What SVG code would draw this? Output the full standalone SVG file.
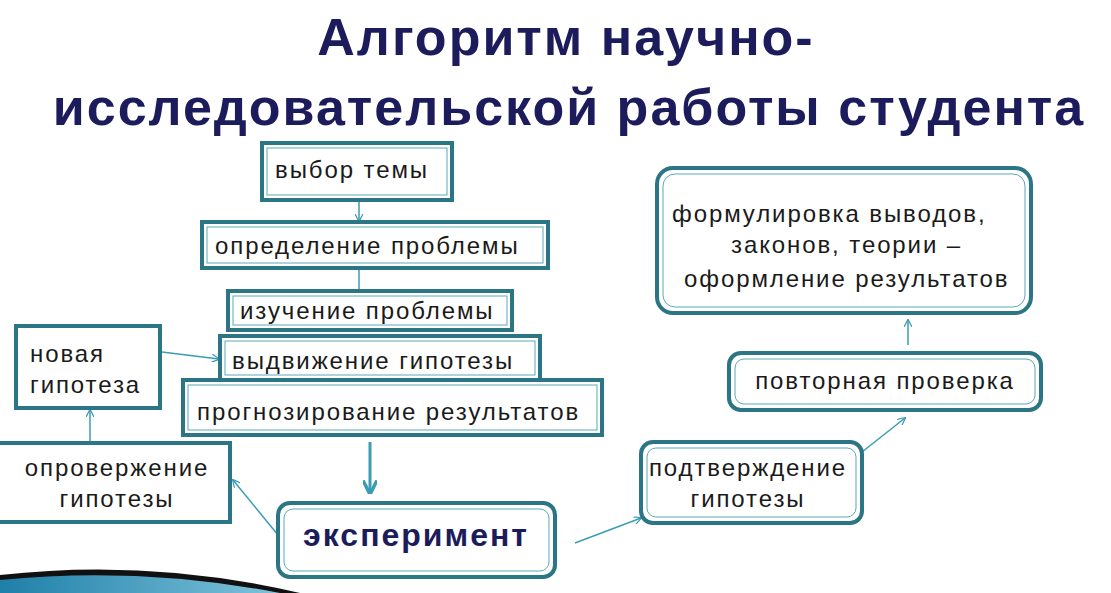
<svg xmlns="http://www.w3.org/2000/svg" width="1111" height="593" viewBox="0 0 1111 593">
<defs>
<style>
.b{fill:#fff;stroke:#2b7585;stroke-width:4}
.i{fill:none;stroke:#5aa9b8;stroke-width:1}
.t{font-family:"Liberation Sans",Arial,sans-serif;font-size:24px;letter-spacing:1.9px;fill:#1a1a1a}
.c{stroke:#3a9cb5;stroke-width:1.5;fill:none}
</style>
<marker id="a" viewBox="0 0 10 10" refX="9" refY="5" markerWidth="8" markerHeight="8" orient="auto" markerUnits="userSpaceOnUse"><path d="M0,0L10,5L0,10" fill="none" stroke="#3a9cb5" stroke-width="1.5"/></marker>
<marker id="a2" viewBox="0 0 10 10" refX="9" refY="5" markerWidth="14" markerHeight="14" orient="auto" markerUnits="userSpaceOnUse"><path d="M0,0L10,5L0,10" fill="none" stroke="#3a9cb5" stroke-width="2.5"/></marker>
<linearGradient id="sw" x1="0" y1="0" x2="1" y2="0"><stop offset="0" stop-color="#1f7fa8"/><stop offset="1" stop-color="#7fc3dc"/></linearGradient>
</defs>
<rect width="1111" height="593" fill="#fff"/>
<path d="M0,575 Q150,558 300,593 L0,593Z" fill="#111"/>
<path d="M0,580 Q140,566 280,593 L0,593Z" fill="url(#sw)"/>
<g font-family="Liberation Sans,Arial,sans-serif" font-weight="bold" font-size="52" letter-spacing="2" fill="#1c1c5c" text-anchor="middle">
<text x="566" y="55">Алгоритм научно-</text>
<text x="569" y="125">исследовательской работы студента</text>
</g>
<g id="connectors">
<path class="c" d="M359,200V221" marker-end="url(#a)"/>
<path class="c" d="M359,268V291"/>
<path class="c" d="M162,352L219,359" marker-end="url(#a)"/>
<path class="c" d="M90,442V410" marker-end="url(#a)"/>
<path d="M370,442V493" stroke="#3a9cb5" stroke-width="3" marker-end="url(#a2)"/>
<path class="c" d="M278,535L233,480" marker-end="url(#a)"/>
<path class="c" d="M575,543L641,518" marker-end="url(#a)"/>
<path class="c" d="M862,452L905,418" marker-end="url(#a)"/>
<path class="c" d="M908,345V320" marker-end="url(#a)"/>
</g>
<g id="n1"><rect class="b" x="262" y="143" width="190" height="57"/><rect class="i" x="267" y="148" width="180" height="47"/><text class="t" x="275" y="178">выбор темы</text></g>
<g id="n2"><rect class="b" x="202" y="222" width="346" height="46"/><rect class="i" x="207" y="227" width="336" height="36"/><text class="t" x="215" y="254">определение проблемы</text></g>
<g id="n3"><rect class="b" x="228" y="291" width="284" height="39"/><rect class="i" x="233" y="296" width="274" height="29"/><text class="t" x="240" y="319">изучение проблемы</text></g>
<g id="n4"><rect class="b" x="220" y="336" width="320" height="44"/><rect class="i" x="225" y="341" width="310" height="34"/><text class="t" x="232" y="369">выдвижение гипотезы</text></g>
<g id="n5"><rect class="b" x="183" y="380" width="419" height="55"/><rect class="i" x="188" y="385" width="409" height="45"/><text class="t" x="197" y="420">прогнозирование результатов</text></g>
<g id="n6"><rect class="b" x="16" y="326" width="144" height="82"/><text class="t" x="30" y="362">новая</text><text class="t" x="30" y="393">гипотеза</text></g>
<g id="n7"><rect class="b" x="-4" y="443" width="234" height="79"/><text class="t" text-anchor="middle" x="117" y="476">опровержение</text><text class="t" text-anchor="middle" x="117" y="507">гипотезы</text></g>
<g id="n8"><rect class="b" x="278" y="503" width="277" height="74" rx="12"/><rect class="i" x="284" y="509" width="265" height="62" rx="9"/><text x="416" y="546" text-anchor="middle" font-family="Liberation Sans,Arial,sans-serif" font-weight="bold" font-size="32" letter-spacing="2" fill="#1c1c5c">эксперимент</text></g>
<g id="n9"><rect class="b" x="641" y="442" width="221" height="81" rx="12"/><rect class="i" x="647" y="448" width="209" height="69" rx="9"/><text class="t" text-anchor="middle" x="748" y="476">подтверждение</text><text class="t" text-anchor="middle" x="748" y="507">гипотезы</text></g>
<g id="n10"><rect class="b" x="729" y="353" width="312" height="57" rx="12"/><rect class="i" x="735" y="359" width="300" height="45" rx="9"/><text class="t" text-anchor="middle" x="885" y="389">повторная проверка</text></g>
<g id="n11"><rect class="b" x="657" y="168" width="374" height="145" rx="16"/><rect class="i" x="663" y="174" width="362" height="133" rx="12"/><text class="t" x="672" y="222">формулировка выводов,</text><text class="t" x="731" y="253">законов, теории –</text><text class="t" x="684" y="287">оформление результатов</text></g>
</svg>
